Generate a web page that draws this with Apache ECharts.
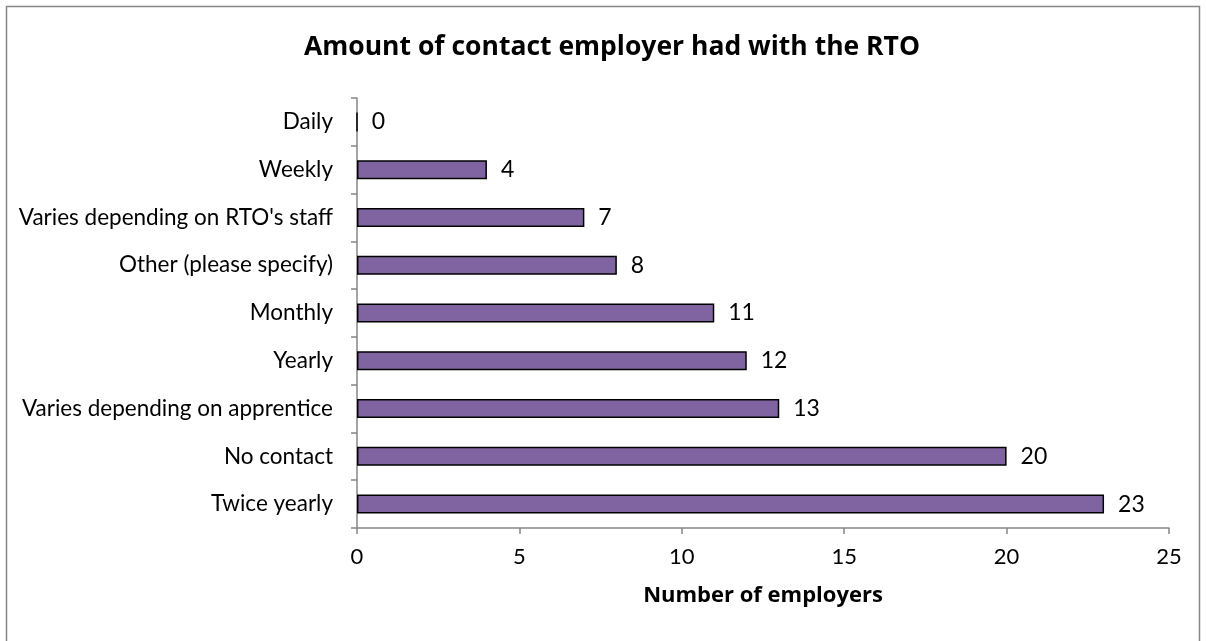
<!DOCTYPE html>
<html><head><meta charset="utf-8">
<script src="https://cdn.jsdelivr.net/npm/echarts@6/dist/echarts.min.js"></script>
<style>html,body{margin:0;padding:0;background:#fff}#c{width:1206px;height:641px}</style>
</head><body><div id="c"></div>
<script>
const categories = ["Daily","Weekly","Varies depending on RTO's staff","Other (please specify)","Monthly","Yearly","Varies depending on apprentice","No contact","Twice yearly"];
const values = [0,4,7,8,11,12,13,20,23];
const xTicks = [0,5,10,15,20,25];
const FONT = "Lato";
const BFONT = "Open Sans";
const chart = echarts.init(document.getElementById('c'));
chart.setOption({
  animation:false,
  textStyle:{fontFamily:FONT},
  graphic:[{type:'rect',shape:{x:6.5,y:6.5,width:1193,height:650},style:{fill:'none',stroke:'#868686',lineWidth:1.5}}],
  title:{text:'Amount of contact employer had with the RTO',left:607,top:29,textAlign:'center',
    textStyle:{fontFamily:BFONT,fontSize:26.5,fontWeight:'bold',color:'#000'}},
  grid:{left:357,right:37,top:98,bottom:113},
  xAxis:{type:'value',min:xTicks[0],max:xTicks[xTicks.length-1],interval:5,
    name:'Number of employers',nameLocation:'middle',nameGap:57,
    nameTextStyle:{fontFamily:BFONT,fontSize:22,fontWeight:'bold',color:'#000'},
    axisLine:{show:true,lineStyle:{color:'#868686',width:1.5}},
    axisTick:{show:true,length:6,lineStyle:{color:'#868686',width:1.5}},
    axisLabel:{fontFamily:FONT,fontSize:22,color:'#000',margin:18},
    splitLine:{show:false}},
  yAxis:{type:'category',data:categories,inverse:true,
    axisLine:{lineStyle:{color:'#868686',width:1.5}},
    axisTick:{show:true,length:6,lineStyle:{color:'#868686',width:1.5}},
    axisLabel:{fontFamily:FONT,fontSize:22.5,color:'#000',margin:24}},
  series:[{type:'bar',data:values,barWidth:19,
    itemStyle:{color:'#8064A2',borderColor:'#000',borderWidth:1.5},
    label:{show:true,position:'right',distance:14,fontFamily:FONT,fontSize:23,color:'#000'}}]
});
</script></body></html>
